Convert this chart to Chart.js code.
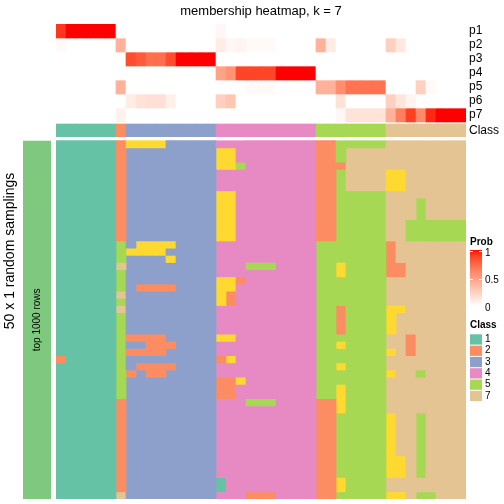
<!DOCTYPE html>
<html>
<head>
<meta charset="utf-8">
<script src="https://cdn.jsdelivr.net/npm/chart.js@4.4.0/dist/chart.umd.min.js"></script>
<style>
  html, body { margin: 0; padding: 0; background: #fff; }
  canvas { display: block; }
</style>
</head>
<body>
<canvas id="chart" width="504" height="504"></canvas>
<script>
// membership probability per column (41 columns), one array per class
const p1 = [0.92,1,1,1,1,1, 0, 0,0,0,0,0,0,0,0,0, 0.04,0,0,0,0,0,0,0,0,0, 0,0,0,0,0,0,0, 0,0,0,0,0,0,0,0];
const p2 = [0.03,0,0,0,0,0, 0.4, 0,0,0,0,0,0,0,0,0, 0.1,0.04,0.06,0.03,0.03,0.03,0,0,0,0, 0.4,0.1,0,0,0,0,0, 0.25,0.12,0,0,0,0,0,0];
const p3 = [0,0,0,0,0,0, 0, 0.85,0.8,0.72,0.72,0.85,1,1,1,1, 0,0,0,0,0,0,0,0,0,0, 0,0,0,0,0,0,0, 0,0,0,0,0,0,0,0];
const p4 = [0,0,0,0,0,0, 0, 0,0,0,0,0,0,0,0,0, 0.48,0.55,0.88,0.88,0.88,0.88,1,1,1,1, 0,0,0,0,0,0,0, 0,0,0,0,0,0,0,0];
const p5 = [0,0,0,0,0,0, 0.4, 0,0,0,0,0,0,0,0,0, 0,0,0,0.03,0.03,0.03,0,0,0,0, 0.4,0.4,0.58,0.7,0.7,0.7,0.7, 0,0,0,0.25,0.03,0,0,0];
const p6 = [0,0,0,0,0,0, 0, 0.1,0.15,0.16,0.16,0.08,0,0,0,0, 0.25,0.3,0,0,0,0,0,0,0,0, 0,0,0.15,0,0,0,0, 0.25,0.13,0.06,0,0,0,0,0];
const p7 = [0,0,0,0,0,0, 0.07, 0,0,0,0,0,0,0,0,0, 0,0,0,0,0,0,0,0,0,0, 0,0,0.04,0.15,0.15,0.15,0.15, 0.4,0.65,0.9,0.6,0.95,1,1,1];
const probRows = [p1, p2, p3, p4, p5, p6, p7];
const probLabels = ['p1', 'p2', 'p3', 'p4', 'p5', 'p6', 'p7'];

// consensus class of each column
const colClass = '11111123333333334444444444555555577777777';

// class of each column in each of the 50 random samplings
const samplings = [
  '11111126666333334444444444225555577777777',
  '11111123333333336644444444225777777777777',
  '11111123333333336644444444225777777777777',
  '11111123333333336654444444222777777777777',
  '11111123333333334444444444225777766777777',
  '11111123333333334444444444225777766777777',
  '11111123333333334444444444225777766777777',
  '11111123333333336644444444225555577777777',
  '11111123333333336644444444225555577757777',
  '11111123333333336644444444225555577757777',
  '11111123333333336644444444225555577757777',
  '11111123333333336644444444225555577555555',
  '11111123333333336644444444225555577555555',
  '11111123333333336644444444225555577555555',
  '11111153666633334444444444555555527777777',
  '11111156666333334444444444555555527777777',
  '11111153333633334444444444555555527777777',
  '11111173333333334445554444556555522777777',
  '11111153333333334444444444556555522777777',
  '11111153333333336624444444555555577777777',
  '11111153222233336644444444555555577777777',
  '11111173333333336244444444555555577777777',
  '11111153333333336244444444555555577777777',
  '11111173333333334444444444552555566777777',
  '11111153333333334444444444552555567777777',
  '11111153333333334444444444552555567777777',
  '11111153333333334444444444552555567777777',
  '11111152222333336644444444555555577277777',
  '11111153322233334444444444556555577277777',
  '11111152222333334444444444555555567277777',
  '21111153333333332644444444555555577777777',
  '11111153222233334444444444556555577777777',
  '11111152322333334444444444555555567757777',
  '11111153333333332264444444555555577777777',
  '11111153333333332244444444556555577777777',
  '11111153333333332244444444556555577777777',
  '11111123333333334445554444226555577777777',
  '11111123333333334444444444226555577777777',
  '11111123333333334444444444225555567757777',
  '11111123333333334444444444225555567757777',
  '11111123333333334444444444225555567757777',
  '11111123333333334444444444225555567757777',
  '11111123333333334444444444225555567757777',
  '11111123333333334444444444225555567757777',
  '11111123333333334444444444225555566757777',
  '11111123333333334444444444225555566757777',
  '11111123333333334444444444225555566757777',
  '11111123333333331444444444226555577777777',
  '11111123333333331444444444226555577777777',
  '11111173333333334442224444225555566755777'
];

const legendClasses = ['1', '2', '3', '4', '5', '7'];
const probTicks = [1, 0.5, 0];

const classColors = {
  '1': '#66C2A5', '2': '#FC8D62', '3': '#8DA0CB', '4': '#E78AC3',
  '5': '#A6D854', '6': '#FFD92F', '7': '#E5C494'
};

// white -> red ramp interpolated in LAB space
function toLin(c) { c /= 255; return c <= 0.04045 ? c / 12.92 : Math.pow((c + 0.055) / 1.055, 2.4); }
function fromLin(c) {
  c = c <= 0.0031308 ? 12.92 * c : 1.055 * Math.pow(c, 1 / 2.4) - 0.055;
  return Math.round(Math.max(0, Math.min(1, c)) * 255);
}
function rgbToLab(rgb) {
  const r = toLin(rgb[0]), g = toLin(rgb[1]), b = toLin(rgb[2]);
  const X = (0.4124 * r + 0.3576 * g + 0.1805 * b) / 0.95047;
  const Y = 0.2126 * r + 0.7152 * g + 0.0722 * b;
  const Z = (0.0193 * r + 0.1192 * g + 0.9505 * b) / 1.08883;
  const f = t => t > 0.008856 ? Math.cbrt(t) : 7.787 * t + 16 / 116;
  return [116 * f(Y) - 16, 500 * (f(X) - f(Y)), 200 * (f(Y) - f(Z))];
}
function labToRgb(lab) {
  const fy = (lab[0] + 16) / 116, fx = fy + lab[1] / 500, fz = fy - lab[2] / 200;
  const inv = f => f * f * f > 0.008856 ? f * f * f : (f - 16 / 116) / 7.787;
  const X = inv(fx) * 0.95047, Y = inv(fy), Z = inv(fz) * 1.08883;
  return [
    fromLin(3.2406 * X - 1.5372 * Y - 0.4986 * Z),
    fromLin(-0.9689 * X + 1.8758 * Y + 0.0415 * Z),
    fromLin(0.0557 * X - 0.2040 * Y + 1.0570 * Z)
  ];
}
const labWhite = rgbToLab([255, 255, 255]);
const labRed = rgbToLab([255, 0, 0]);
function probColor(v) {
  const lab = labWhite.map((w, i) => w + (labRed[i] - w) * v);
  const c = labToRgb(lab);
  return 'rgb(' + c[0] + ',' + c[1] + ',' + c[2] + ')';
}

// vertical layout in y-axis units (1 unit = 1 px)
const PROB_H = 14;
const CLASS_TOP = 100, CLASS_BOTTOM = 112.7;
const SAMPLE_TOP = 116.7, SAMPLE_BOTTOM = 475;
const sampleH = (SAMPLE_BOTTOM - SAMPLE_TOP) / samplings.length;

const columns = colClass.split('').map((c, i) => 'col' + (i + 1));
const datasets = [];

probRows.forEach((p, k) => {
  datasets.push({
    data: p.map(() => [PROB_H * k, PROB_H * (k + 1)]),
    backgroundColor: p.map(probColor)
  });
});

datasets.push({
  data: columns.map(() => [CLASS_TOP, CLASS_BOTTOM]),
  backgroundColor: colClass.split('').map(c => classColors[c])
});

// merge runs of the same class down each column
const runs = columns.map((_, i) => {
  const out = [];
  samplings.forEach((row, r) => {
    const c = row[i];
    const last = out[out.length - 1];
    if (last && last.c === c) last.end = r + 1;
    else out.push({ c: c, start: r, end: r + 1 });
  });
  return out;
});
const maxRuns = Math.max(...runs.map(r => r.length));
for (let j = 0; j < maxRuns; j++) {
  datasets.push({
    data: runs.map(rs => rs[j] ? [SAMPLE_TOP + rs[j].start * sampleH, SAMPLE_TOP + rs[j].end * sampleH] : null),
    backgroundColor: runs.map(rs => rs[j] ? classColors[rs[j].c] : 'rgba(0,0,0,0)')
  });
}

const FONT = '"Liberation Sans", Arial, Helvetica, sans-serif';

const decorations = {
  id: 'decorations',
  afterDraw(chart) {
    const ctx = chart.ctx;
    const area = chart.chartArea;
    const y = chart.scales.y;
    ctx.save();
    ctx.fillStyle = '#000';

    // title
    ctx.font = '13px ' + FONT;
    ctx.textAlign = 'center';
    ctx.textBaseline = 'alphabetic';
    ctx.fillText('membership heatmap, k = 7', (area.left + area.right) / 2, 15);

    // row names
    ctx.font = '12px ' + FONT;
    ctx.textAlign = 'left';
    ctx.textBaseline = 'middle';
    probLabels.forEach((lab, k) => {
      ctx.fillText(lab, area.right + 3, y.getPixelForValue(PROB_H * k + PROB_H / 2));
    });
    ctx.fillText('Class', area.right + 3, y.getPixelForValue((CLASS_TOP + CLASS_BOTTOM) / 2));

    // left annotation bar
    const top = y.getPixelForValue(SAMPLE_TOP), bottom = y.getPixelForValue(SAMPLE_BOTTOM);
    ctx.fillStyle = '#7FC97F';
    ctx.fillRect(23, top, 28, bottom - top);
    ctx.fillStyle = '#000';

    ctx.save();
    ctx.translate(37.5, (top + bottom) / 2);
    ctx.rotate(-Math.PI / 2);
    ctx.font = '10px ' + FONT;
    ctx.textAlign = 'center';
    ctx.fillText('top 1000 rows', 0, 0);
    ctx.restore();

    ctx.save();
    ctx.translate(10.5, 251);
    ctx.rotate(-Math.PI / 2);
    ctx.font = '14px ' + FONT;
    ctx.textAlign = 'center';
    ctx.fillText('50 x 1 random samplings', 0, 0);
    ctx.restore();

    // probability legend
    const lx = 470, lw = 12;
    ctx.font = 'bold 10px ' + FONT;
    ctx.textAlign = 'left';
    ctx.fillText('Prob', lx, 242);
    const barTop = 250, barBottom = 306;
    for (let py = barTop; py < barBottom; py++) {
      const v = 1 - (py + 0.5 - barTop) / (barBottom - barTop);
      ctx.fillStyle = probColor(Math.max(0, Math.min(1, v)));
      ctx.fillRect(lx, py, lw, 1);
    }
    ctx.strokeStyle = '#fff';
    ctx.lineWidth = 1;
    const tickY = [251.5, 279.5];
    tickY.forEach(ty => {
      ctx.beginPath();
      ctx.moveTo(lx, ty); ctx.lineTo(lx + 3, ty);
      ctx.moveTo(lx + lw - 3, ty); ctx.lineTo(lx + lw, ty);
      ctx.stroke();
    });
    ctx.fillStyle = '#000';
    ctx.font = '10px ' + FONT;
    const tickLabelY = [253.3, 280.7, 308.3];
    probTicks.forEach((t, i) => ctx.fillText(String(t), lx + 15, tickLabelY[i]));

    // class legend
    ctx.font = 'bold 10px ' + FONT;
    ctx.fillText('Class', lx, 325);
    ctx.font = '10px ' + FONT;
    legendClasses.forEach((c, i) => {
      const cy = 339.3 + i * 11.3;
      ctx.fillStyle = classColors[c];
      ctx.fillRect(lx, cy - 5, lw, 10.3);
      ctx.fillStyle = '#000';
      ctx.fillText(c, lx + 15, cy);
    });

    ctx.restore();
  }
};

new Chart(document.getElementById('chart'), {
  type: 'bar',
  data: { labels: columns, datasets: datasets },
  options: {
    responsive: false,
    animation: false,
    events: [],
    layout: { padding: { left: 56, right: 38, top: 24, bottom: 5 } },
    datasets: {
      bar: { grouped: false, barPercentage: 1, categoryPercentage: 1, borderWidth: 0 }
    },
    plugins: {
      legend: { display: false },
      tooltip: { enabled: false },
      title: { display: false }
    },
    scales: {
      x: { type: 'category', display: false, offset: true },
      y: { type: 'linear', display: false, min: 0, max: 475, reverse: true }
    }
  },
  plugins: [decorations]
});
</script>
</body>
</html>
